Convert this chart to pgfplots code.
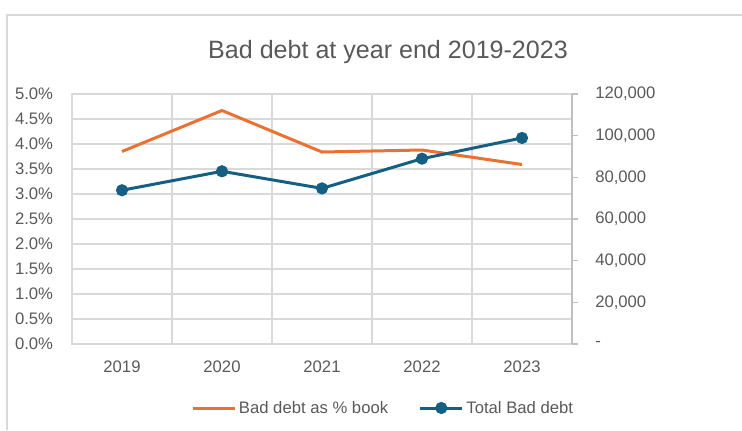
\documentclass[border=0pt]{standalone}
\usepackage{pgfplots}
\pgfplotsset{compat=1.18}
\usepackage{fontspec}
\setmainfont{Liberation Sans}
\definecolor{txt}{HTML}{595959}
\definecolor{grd}{HTML}{D9D9D9}
\definecolor{axc}{HTML}{BFBFBF}
\definecolor{org}{HTML}{E97132}
\definecolor{blu}{HTML}{156082}
\begin{document}
\begin{tikzpicture}
\path[use as bounding box] (0,0) rectangle (556.5pt,322.5pt);
\draw[grd, line width=1.1pt] (5.25pt,0) -- (5.25pt,311.25pt) -- (556.5pt,311.25pt);
\node[anchor=base, text=txt, font=\fontsize{18.8}{22}\selectfont, inner sep=0pt] at (291pt,278.8pt) {Bad debt at year end 2019-2023};
\pgfplotsset{
  every axis/.append style={
    at={(54pt,64.5pt)}, anchor=south west, scale only axis,
    width=375pt, height=187.5pt, xmin=-0.5, xmax=4.5,
    /pgf/number format/assume math mode=true,
    tick label style={font=\fontsize{12.5}{15}\selectfont, text=txt},
  }
}
\begin{axis}[
  ymin=0, ymax=5,
  axis line style={grd, line width=1.1pt},
  xtick={0,1,2,3,4},
  xticklabels={2019,2020,2021,2022,2023},
  minor xtick={0.5,1.5,2.5,3.5},
  xminorgrids, minor grid style={grd, line width=1.1pt},
  ytick={0,0.5,...,5},
  ymajorgrids, major grid style={grd, line width=1.1pt},
  major tick length=0pt, minor tick length=0pt,
  yticklabel={\pgfmathprintnumber[fixed,fixed zerofill,precision=1]{\tick}\%},
  yticklabel style={anchor=east, inner sep=0pt, xshift=-14pt},
  xticklabel style={anchor=north, inner sep=0pt, yshift=-12.5pt},
]
\addplot[org, line width=2.25pt, no marks] coordinates {(0,3.85) (1,4.67) (2,3.84) (3,3.88) (4,3.59)};
\end{axis}
\begin{axis}[
  ymin=0, ymax=120000,
  axis x line=none, axis y line*=right,
  axis line style={axc, line width=1.1pt},
  tick style={axc, line width=1.1pt},
  tick align=outside, major tick length=4.5pt,
  scaled y ticks=false,
  ytick={0,20000,40000,60000,80000,100000,120000},
  yticklabels={-,{20,000},{40,000},{60,000},{80,000},{100,000},{120,000}},
  yticklabel style={anchor=west, inner sep=0pt, xshift=12.75pt},
  legend columns=2,
  legend style={at={(0.623,-0.256)}, anchor=center, draw=none, fill=none,
    font=\fontsize{12.5}{15}\selectfont, text=txt,
    /tikz/every even column/.append style={column sep=21pt}},
  legend image code/.code={\draw[mark repeat=2,mark phase=2,#1] plot coordinates {(0pt,0pt) (15.75pt,0pt) (31.5pt,0pt)};},
]
\addlegendimage{org, line width=2.25pt, no marks}
\addlegendentry{Bad debt as \% book}
\addplot[blu, line width=2.25pt, mark=*, mark size=3.4pt, mark options={fill=blu, draw=blu}] coordinates {(0,73800) (1,82900) (2,74700) (3,88950) (4,98900)};
\addlegendentry{Total Bad debt}
\end{axis}
\end{tikzpicture}
\end{document}
